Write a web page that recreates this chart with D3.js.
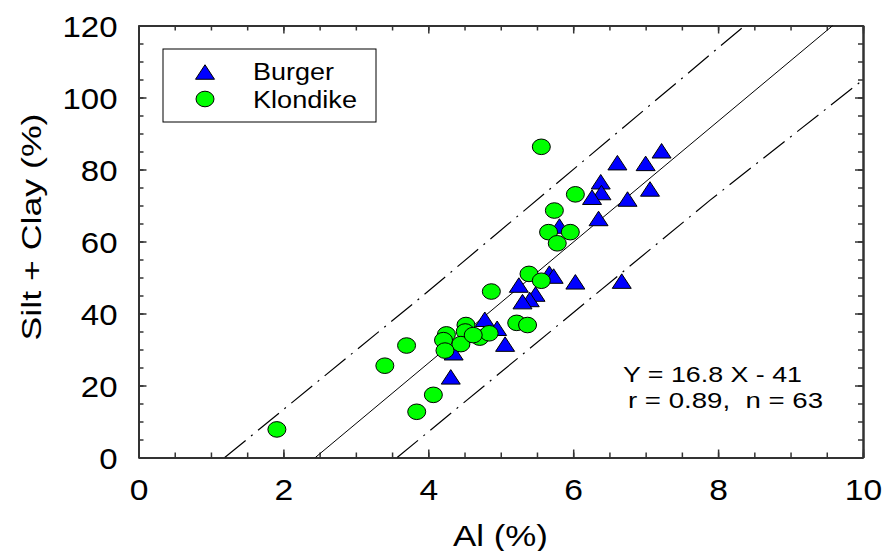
<!DOCTYPE html>
<html>
<head>
<meta charset="utf-8">
<title>Silt + Clay vs Al</title>
<style>
  body { margin: 0; background: #fff; }
  text { font-family: "Liberation Sans", Arial, sans-serif; fill: #000; }
  .axis path { stroke: #333; stroke-width: 2; }
  .axis line { stroke: #333; stroke-width: 1.5; }
</style>
</head>
<body>
<script src="https://cdn.jsdelivr.net/npm/d3@7"></script>
<script>
// Burger samples (blue triangles): Al (%) and Silt + Clay (%)
var burgerAl = [6.61, 7.00, 7.22, 6.38, 6.39, 6.26, 7.06, 6.75, 6.35, 5.81, 5.25, 5.67,
                5.73, 6.03, 6.67, 5.48, 5.40, 5.30, 4.78, 4.95, 5.06, 4.35, 4.31];
var burgerSC = [81.9, 81.7, 85.2, 76.6, 73.6, 72.3, 74.6, 71.8, 66.4, 64.3, 47.9, 51.2,
                50.4, 48.8, 49.0, 45.4, 43.9, 43.3, 38.4, 35.9, 31.5, 29.1, 22.4];

// Klondike samples (green circles)
var klondikeAl = [5.56, 6.03, 5.74, 5.66, 5.96, 5.78, 5.39, 5.56, 4.87, 5.22, 5.37, 4.52, 4.51,
                  4.71, 4.84, 4.25, 4.21, 4.45, 4.23, 4.07, 3.84, 3.70, 3.40, 1.91, 4.62];
var klondikeSC = [86.3, 73.1, 68.6, 62.6, 62.6, 59.5, 51.0, 49.1, 46.1, 37.4, 36.8, 36.8, 35.0,
                  33.3, 34.5, 34.2, 32.6, 31.5, 29.7, 17.4, 12.7, 31.1, 25.5, 7.8, 34.0];

var xTicks = [0, 2, 4, 6, 8, 10];
var yTicks = [0, 20, 40, 60, 80, 100, 120];

// regression line Y = 16.8 X - 41, and the band lines
var fitSlope = 16.8, fitIntercept = -41;
var upperBand = [[1.19, 0], [3.91, 44.7], [8.37, 120]];
var lowerBand = [[3.57, 0], [7.89, 71.5], [10, 104.9]];

var width = 884, height = 551;
var plot = {left: 138.5, right: 863, top: 25.5, bottom: 457.5};

var svg = d3.select("body").append("svg")
  .attr("width", width)
  .attr("height", height);

var x = d3.scaleLinear().domain([0, 10]).range([plot.left, plot.right]);
var y = d3.scaleLinear().domain([0, 120]).range([plot.bottom, plot.top]);

// stretch text horizontally a bit, the original lettering is wide
function widen(sel, k) {
  sel.attr("textLength", function() { return this.getComputedTextLength() * k; })
     .attr("lengthAdjust", "spacingAndGlyphs");
}

// minor ticks first, all pointing inward
var xMinor = d3.range(0, 10.01, 0.5);
var yMinor = d3.range(0, 120.1, 5);

svg.append("g").attr("class", "axis")
  .attr("transform", "translate(0," + plot.bottom + ")")
  .call(d3.axisBottom(x).tickValues(xMinor).tickFormat("").tickSizeInner(-5).tickSizeOuter(0));
svg.append("g").attr("class", "axis")
  .attr("transform", "translate(0," + plot.top + ")")
  .call(d3.axisTop(x).tickValues(xMinor).tickFormat("").tickSizeInner(-5).tickSizeOuter(0));
svg.append("g").attr("class", "axis")
  .attr("transform", "translate(" + plot.left + ",0)")
  .call(d3.axisLeft(y).tickValues(yMinor).tickFormat("").tickSizeInner(-5).tickSizeOuter(0));
svg.append("g").attr("class", "axis")
  .attr("transform", "translate(" + plot.right + ",0)")
  .call(d3.axisRight(y).tickValues(yMinor).tickFormat("").tickSizeInner(-5).tickSizeOuter(0));

// major ticks with labels
var xAxis = svg.append("g").attr("class", "axis")
  .attr("transform", "translate(0," + plot.bottom + ")")
  .call(d3.axisBottom(x).tickValues(xTicks).tickSizeInner(-8).tickSizeOuter(0).tickPadding(21));
xAxis.selectAll("text").style("font-size", "30px").attr("font-family", null);
widen(xAxis.selectAll("text"), 1.12);

var yAxis = svg.append("g").attr("class", "axis")
  .attr("transform", "translate(" + plot.left + ",0)")
  .call(d3.axisLeft(y).tickValues(yTicks).tickSizeInner(-8).tickSizeOuter(0).tickPadding(21));
yAxis.selectAll("text").style("font-size", "30px").attr("dy", "0.37em").attr("font-family", null);
widen(yAxis.selectAll("text"), 1.1);

svg.append("g").attr("class", "axis")
  .attr("transform", "translate(0," + plot.top + ")")
  .call(d3.axisTop(x).tickValues(xTicks).tickFormat("").tickSizeInner(-8).tickSizeOuter(0));
svg.append("g").attr("class", "axis")
  .attr("transform", "translate(" + plot.right + ",0)")
  .call(d3.axisRight(y).tickValues(yTicks).tickFormat("").tickSizeInner(-8).tickSizeOuter(0));

svg.selectAll(".axis .domain").attr("stroke", null);

// regression and band lines, clipped to the frame
svg.append("clipPath").attr("id", "frame")
  .append("rect")
  .attr("x", plot.left).attr("y", plot.top)
  .attr("width", plot.right - plot.left).attr("height", plot.bottom - plot.top);

var line = d3.line().x(d => x(d[0])).y(d => y(d[1]));
var fitLine = [[(0 - fitIntercept) / fitSlope, 0], [(120 - fitIntercept) / fitSlope, 120]];

var lines = svg.append("g").attr("clip-path", "url(#frame)");
lines.append("path").datum(fitLine)
  .attr("d", line).attr("fill", "none").attr("stroke", "#000").attr("stroke-width", 1);
[upperBand, lowerBand].forEach(function(b) {
  lines.append("path").datum(b)
    .attr("d", line).attr("fill", "none").attr("stroke", "#000").attr("stroke-width", 1.2)
    .attr("stroke-dasharray", "27,7,2,7");
});

// markers
var tri = "M0,-7.25L9.5,7.25L-9.5,7.25Z";
var burger = burgerAl.map((v, i) => ({al: v, sc: burgerSC[i]}));
var klondike = klondikeAl.map((v, i) => ({al: v, sc: klondikeSC[i]}));

svg.append("g").selectAll("path")
  .data(burger).enter().append("path")
  .attr("d", tri)
  .attr("transform", d => "translate(" + x(d.al) + "," + y(d.sc) + ")")
  .attr("fill", "#0000ff").attr("stroke", "#000").attr("stroke-width", 1);

svg.append("g").selectAll("ellipse")
  .data(klondike).enter().append("ellipse")
  .attr("cx", d => x(d.al)).attr("cy", d => y(d.sc))
  .attr("rx", 9).attr("ry", 7.8)
  .attr("fill", "#00ff00").attr("stroke", "#000").attr("stroke-width", 1);

// legend
var legend = svg.append("g");
legend.append("rect")
  .attr("x", 163).attr("y", 49).attr("width", 213).attr("height", 73)
  .attr("fill", "#fff").attr("stroke", "#000").attr("stroke-width", 1);
legend.append("path").attr("d", tri).attr("transform", "translate(205,72)")
  .attr("fill", "#0000ff").attr("stroke", "#000");
legend.append("ellipse").attr("cx", 205).attr("cy", 99).attr("rx", 9).attr("ry", 7.8)
  .attr("fill", "#00ff00").attr("stroke", "#000");
legend.append("text").attr("x", 253).attr("y", 80).style("font-size", "23px")
  .attr("textLength", 81).attr("lengthAdjust", "spacingAndGlyphs").text("Burger");
legend.append("text").attr("x", 253).attr("y", 107.5).style("font-size", "23px")
  .attr("textLength", 104).attr("lengthAdjust", "spacingAndGlyphs").text("Klondike");

// equation text
svg.append("text").attr("x", 623).attr("y", 382).style("font-size", "22px")
  .attr("textLength", 179).attr("lengthAdjust", "spacingAndGlyphs")
  .text("Y = 16.8 X - 41");
svg.append("text").attr("x", 628).attr("y", 408).style("font-size", "22px")
  .style("white-space", "pre")
  .attr("textLength", 195).attr("lengthAdjust", "spacingAndGlyphs")
  .text("r = 0.89,  n = 63");

// axis titles
svg.append("text").attr("x", 500.5).attr("y", 546)
  .style("font-size", "30px").style("text-anchor", "middle")
  .attr("textLength", 95).attr("lengthAdjust", "spacingAndGlyphs")
  .text("Al (%)");

svg.append("text")
  .attr("transform", "translate(41,227) rotate(-90)")
  .style("font-size", "27px").style("text-anchor", "middle")
  .attr("textLength", 227).attr("lengthAdjust", "spacingAndGlyphs")
  .text("Silt + Clay (%)");
</script>
</body>
</html>
